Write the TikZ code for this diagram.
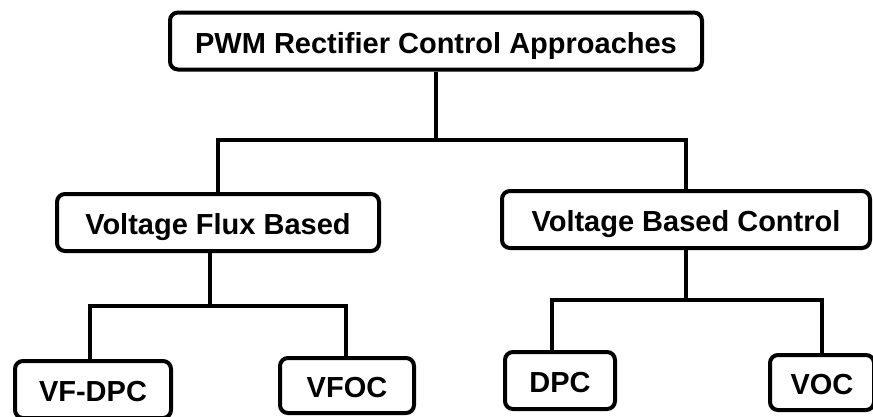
\documentclass[tikz,border=0pt]{standalone}
\usepackage{fontspec}
\setmainfont{Liberation Sans}
\begin{document}
\begin{tikzpicture}[x=1pt,y=-1pt,
  box/.style={draw, line width=4pt, rounded corners=8pt, inner sep=0pt,
    minimum height=57pt, text height=24pt, text depth=0pt,
    font=\fontsize{29}{34}\selectfont\bfseries},
  conn/.style={line width=4.5pt, line join=miter}]
\useasboundingbox (0,0) rectangle (873,416);
\node[box, minimum width=532pt] (top) at (436,41) {PWM Rectifier Control Approaches};
\node[box, minimum width=322pt] (vfb) at (218,222.5) {Voltage Flux Based};
\node[box, minimum width=368pt] (vbc) at (686,219.5) {Voltage Based Control};
\node[box, minimum width=156pt] (vfdpc) at (93,389.5) {VF-DPC};
\node[box, minimum width=134pt, minimum height=55pt] (vfoc) at (347,385.5) {VFOC};
\node[box, minimum width=110pt] (dpc) at (560,380.5) {DPC};
\node[box, minimum width=104pt, minimum height=55pt] (voc) at (822,382.5) {VOC};
\coordinate (j0) at (436,140);
\draw[conn] (top.south) -- (j0);
\draw[conn] (vfb.north) |- (j0) -| (vbc.north);
\coordinate (j1) at (210,306);
\coordinate (k1) at (90,306);
\coordinate (k2) at (346,306);
\draw[conn] (vfb.south -| j1) -- (j1);
\draw[conn] (k1 |- vfdpc.north) -- (k1) -- (k2) -- (k2 |- vfoc.north);
\coordinate (j2) at (686,300);
\coordinate (k3) at (552,300);
\coordinate (k4) at (822,300);
\draw[conn] (vbc.south) -- (j2);
\draw[conn] (k3 |- dpc.north) -- (k3) -- (k4) -- (voc.north);
\end{tikzpicture}
\end{document}
